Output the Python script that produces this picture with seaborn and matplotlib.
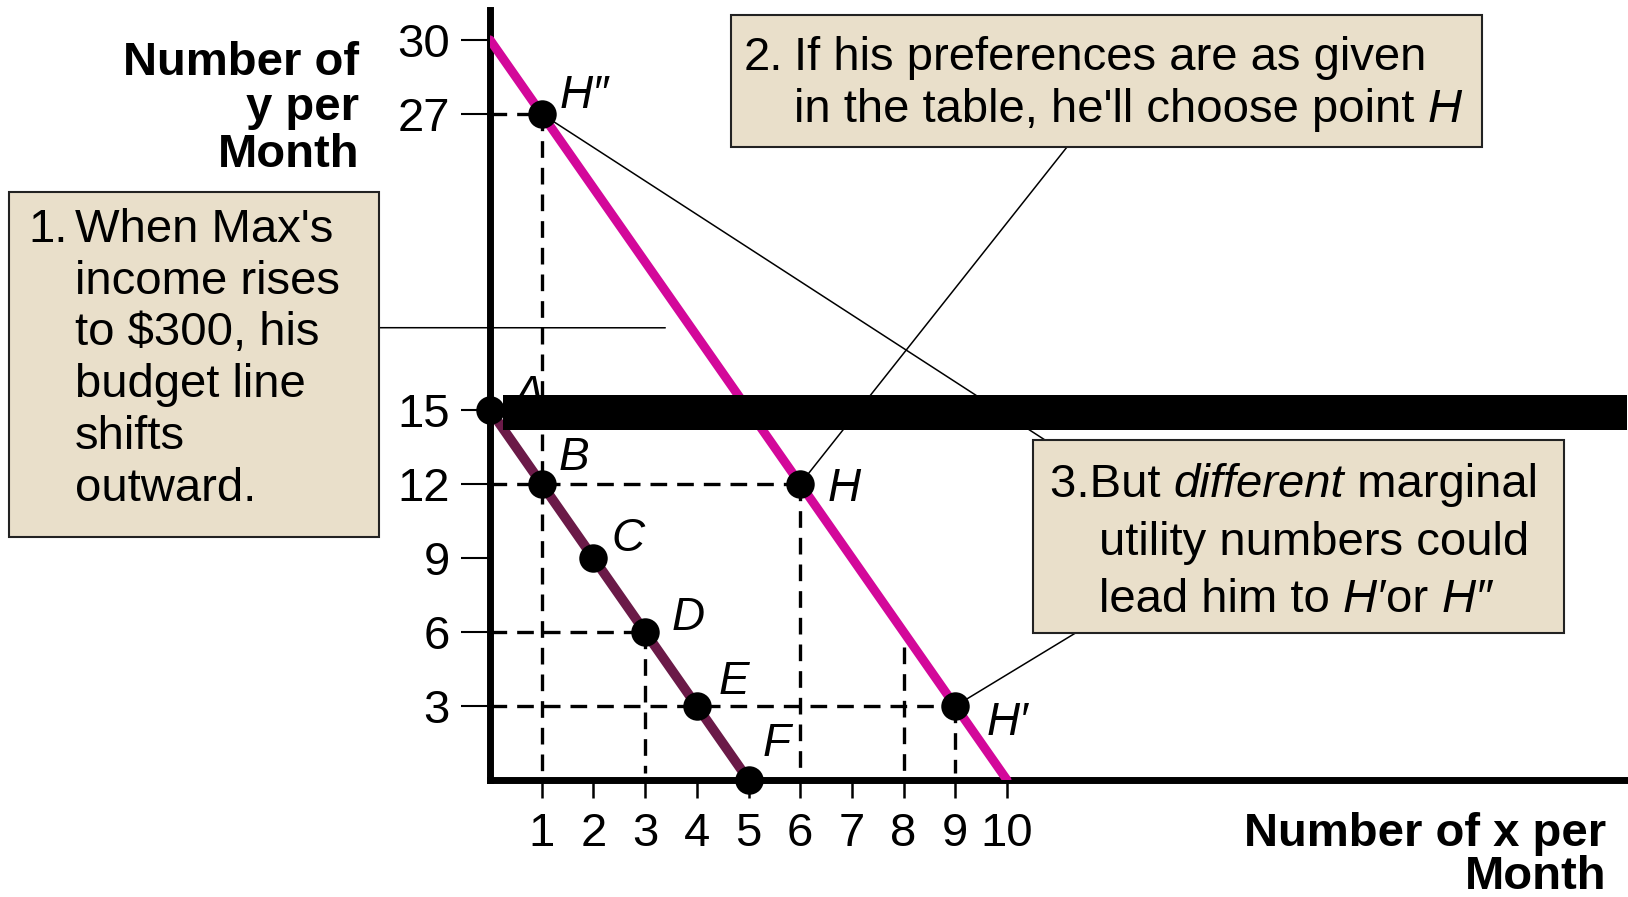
"""Budget line shift: Max's income rises to $300 (points A-F and H, H', H'')."""

import pandas as pd
import seaborn as sns
from matplotlib import pyplot as plt
from matplotlib.patches import Rectangle

# old budget line (income $150) and its points
old_names = ['A', 'B', 'C', 'D', 'E', 'F']
old_x = [0, 1, 2, 3, 4, 5]
old_y = [15, 12, 9, 6, 3, 0]

# new budget line (income $300)
new_line_x = [0, 10]
new_line_y = [30, 0]
new_names = ['H', 'H\u2032', 'H\u2033']
new_x = [6, 9, 1]
new_y = [12, 3, 27]

x_ticks = [1, 2, 3, 4, 5, 6, 7, 8, 9, 10]
y_ticks = [3, 6, 9, 12, 15, 27, 30]

# dashed guides drop from these points to the axes
guide_points = ['H\u2033', 'H', 'D', 'H\u2032']
extra_guide_x = 8
extra_guide_top = 5.4

# thick black band across the plot at about y = 15
band_left, band_low, band_high = 0.25, 14.19, 15.60

W, H = 1628, 897


def fx(px):
    return px / W


def fy(py):
    return 1 - py / H


sns.set_style('white')
plt.rcParams['font.family'] = ['Liberation Sans', 'DejaVu Sans']
plt.rcParams['text.color'] = 'black'
plt.rcParams['xtick.color'] = 'black'
plt.rcParams['ytick.color'] = 'black'
plt.rcParams['axes.labelcolor'] = 'black'

fig = plt.figure(figsize=(W / 100, H / 100), dpi=100)
ax = fig.add_axes([490 / W, 1 - 780 / H, 22 * 51.7 / W, 31.2 * 24.67 / H])
ax.set_xlim(0, 22)
ax.set_ylim(0, 31.2)

old = pd.DataFrame({'name': old_names, 'x': old_x, 'y': old_y})
new = pd.DataFrame({'name': new_names, 'x': new_x, 'y': new_y})
pts = pd.concat([old, new], ignore_index=True)

# budget lines
sns.lineplot(x=new_line_x, y=new_line_y, color='#D3089A', lw=6.5, ax=ax, zorder=4)
sns.lineplot(x=[old_x[0], old_x[-1]], y=[old_y[0], old_y[-1]], color='#6B1A48', lw=7, ax=ax, zorder=5)

# dashed guides
dash = (0, (5, 3))
for nm in guide_points:
    r = pts[pts['name'] == nm].iloc[0]
    ax.plot([0, r.x], [r.y, r.y], color='black', lw=2.4, ls=dash, zorder=3)
    ax.plot([r.x, r.x], [r.y, 0.3], color='black', lw=2.4, ls=dash, zorder=3)
ax.plot([extra_guide_x, extra_guide_x], [extra_guide_top, 0.3], color='black', lw=2.4, ls=dash, zorder=3)

ax.fill_between([band_left, 22], band_low, band_high, color='black', lw=0, zorder=8)

sns.scatterplot(data=pts, x='x', y='y', s=420, color='black', edgecolor='black',
                linewidth=0, ax=ax, zorder=10, clip_on=False)

# point labels (left/baseline position in data units)
label_pos = {'A': (0.45, 15.08), 'B': (1.33, 12.57), 'C': (2.34, 9.29), 'D': (3.51, 6.10),
             'E': (4.42, 3.50), 'F': (5.28, 0.97), 'H': (6.53, 11.3),
             'H\u2032': (9.6, 1.81), 'H\u2033': (1.35, 27.24)}
for nm, (lx, ly) in label_pos.items():
    ax.text(lx, ly, nm, fontsize=33, style='italic', ha='left', va='baseline',
            zorder=7 if nm == 'A' else 11)

# axes look
sns.despine(ax=ax)
ax.spines['left'].set_linewidth(5)
ax.spines['bottom'].set_linewidth(5)
ax.spines['left'].set_color('black')
ax.spines['bottom'].set_color('black')
ax.set_xticks(x_ticks)
ax.set_yticks(y_ticks)
ax.tick_params(axis='x', length=13, width=1.8, pad=10, labelsize=34, direction='out', bottom=True)
ax.tick_params(axis='y', length=21, width=1.5, pad=8, labelsize=34, direction='out', left=True)
ax.set_xlabel('')
ax.set_ylabel('')

# axis titles
for txt, base in zip(['Number of', 'y per', 'Month'], [75, 120, 167]):
    fig.text(fx(359), fy(base), txt, fontsize=34, weight='bold', ha='right', va='baseline')
for txt, base in zip(['Number of x per', 'Month'], [846, 889]):
    fig.text(fx(1606), fy(base), txt, fontsize=34, weight='bold', ha='right', va='baseline')

# connector lines from the notes
arrow = dict(arrowstyle='-', color='black', lw=1.1, shrinkA=0, shrinkB=0)
ax.annotate('', xy=(3.39, 18.33), xytext=(fx(379), fy(327.7)), textcoords='figure fraction',
            arrowprops=arrow, zorder=5)
ax.annotate('', xy=(new_x[0], new_y[0]), xytext=(fx(1067), fy(147)), textcoords='figure fraction',
            arrowprops=arrow, zorder=5)
ax.annotate('', xy=(new_x[2], new_y[2]), xytext=(fx(1045), fy(440)), textcoords='figure fraction',
            arrowprops=arrow, zorder=5)
ax.annotate('', xy=(new_x[1], new_y[1]), xytext=(fx(1075.5), fy(633)), textcoords='figure fraction',
            arrowprops=arrow, zorder=5)

# note boxes
box_face = '#E9DFCA'
note_size = 34


def note_box(x0, y0, x1, y1):
    fig.add_artist(Rectangle((fx(x0), fy(y1)), (x1 - x0) / W, (y1 - y0) / H,
                             transform=fig.transFigure, facecolor=box_face,
                             edgecolor='#222222', lw=1.5, zorder=20))


renderer = fig.canvas.get_renderer()


def rich_line(x_px, base_px, parts, size=note_size):
    x = x_px
    for s, style in parts:
        t = fig.text(fx(x), fy(base_px), s, fontsize=size, style=style,
                     ha='left', va='baseline', zorder=21)
        x = t.get_window_extent(renderer).x1


note_box(9, 192, 379, 537)
fig.text(fx(28), fy(242), '1.', fontsize=note_size, va='baseline', zorder=21)
for i, line in enumerate(["When Max's", 'income rises', 'to $300, his', 'budget line',
                          'shifts', 'outward.']):
    fig.text(fx(75), fy(242 + 51.7 * i), line, fontsize=note_size, va='baseline', zorder=21)

note_box(731, 15, 1482, 147)
fig.text(fx(744), fy(70), '2.', fontsize=note_size, va='baseline', zorder=21)
fig.text(fx(794), fy(70), 'If his preferences are as given', fontsize=note_size,
         va='baseline', zorder=21)
rich_line(794, 122, [("in the table, he'll choose point ", 'normal'), ('H', 'italic')])

note_box(1033, 440, 1564, 633)
rich_line(1050, 497, [('3.But ', 'normal'), ('different', 'italic'), (' marginal', 'normal')])
rich_line(1099, 555, [('utility numbers could', 'normal')])
rich_line(1099, 612, [('lead him to ', 'normal'), ('H\u2032', 'italic'), ('or ', 'normal'),
                      ('H\u2033', 'italic')])

plt.savefig('out.png', dpi=100)
